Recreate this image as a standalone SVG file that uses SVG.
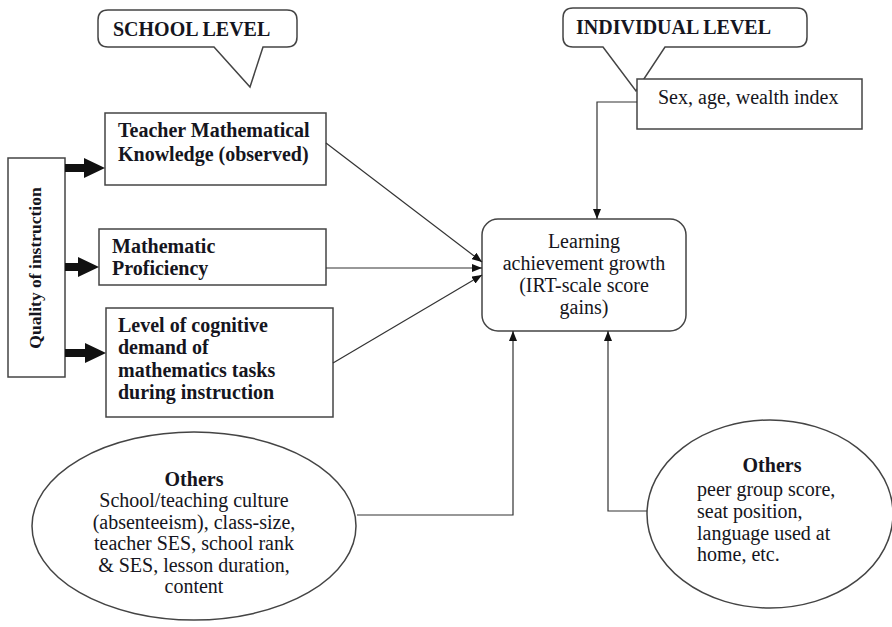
<svg xmlns="http://www.w3.org/2000/svg" width="892" height="627" viewBox="0 0 892 627">
<defs>
<marker id="ah" markerUnits="userSpaceOnUse" markerWidth="10" markerHeight="8" refX="10" refY="4" orient="auto">
<path d="M0,0 L10,4 L0,8 Z" fill="#111"/>
</marker>
<style>
.box{fill:#fff;stroke:#444;stroke-width:1.5}
.t{font-family:"Liberation Serif","Times New Roman",serif;font-size:20px;fill:#151520}
.b{font-weight:bold}
.c{text-anchor:middle}
.con{fill:none;stroke:#333;stroke-width:1.2;marker-end:url(#ah)}
.thick{fill:#111}
</style>
</defs>
<rect width="892" height="627" fill="#fff"/>

<g id="school-level">
<path class="box" d="M108 10 H287 Q297 10 297 20 V37 Q297 47 287 47 H263 L250 87 L214 47 H108 Q98 47 98 37 V20 Q98 10 108 10 Z"/>
<text class="t b" x="113" y="36">SCHOOL LEVEL</text>
</g>

<g id="individual-level">
<path class="box" d="M573 8 H797 Q807 8 807 18 V37 Q807 47 797 47 H665 L636 91 L603 47 H573 Q563 47 563 37 V18 Q563 8 573 8 Z"/>
<text class="t b" x="576" y="34">INDIVIDUAL LEVEL</text>
</g>

<g id="sex-age">
<rect class="box" x="637" y="79" width="225" height="50"/>
<text class="t" x="658" y="104">Sex, age, wealth index</text>
</g>

<g id="quality">
<rect class="box" x="8" y="158" width="57" height="219"/>
<text class="t b c" transform="translate(41 268) rotate(-90)" style="font-size:17.5px">Quality of instruction</text>
</g>

<g id="teacher">
<rect class="box" x="105" y="113" width="221" height="72"/>
<text class="t b" x="118" y="137">Teacher Mathematical</text>
<text class="t b" x="118" y="161">Knowledge (observed)</text>
</g>

<g id="proficiency">
<rect class="box" x="99" y="229" width="227" height="56"/>
<text class="t b" x="112" y="253">Mathematic</text>
<text class="t b" x="112" y="275">Proficiency</text>
</g>

<g id="cognitive">
<rect class="box" x="106" y="308" width="227" height="109"/>
<text class="t b" x="118" y="332">Level of cognitive</text>
<text class="t b" x="118" y="354">demand of</text>
<text class="t b" x="118" y="377">mathematics tasks</text>
<text class="t b" x="118" y="399">during instruction</text>
</g>

<g id="learning">
<rect class="box" x="482" y="219" width="204" height="112" rx="16" ry="16"/>
<text class="t c" x="584" y="248">Learning</text>
<text class="t c" x="584" y="270">achievement growth</text>
<text class="t c" x="584" y="292">(IRT-scale score</text>
<text class="t c" x="584" y="314">gains)</text>
</g>

<g id="others-school">
<ellipse class="box" cx="194" cy="526" rx="162" ry="94"/>
<text class="t b c" x="194" y="486">Others</text>
<text class="t c" x="194" y="507">School/teaching culture</text>
<text class="t c" x="194" y="529">(absenteeism), class-size,</text>
<text class="t c" x="194" y="550">teacher SES, school rank</text>
<text class="t c" x="194" y="572">&amp; SES, lesson duration,</text>
<text class="t c" x="194" y="593">content</text>
</g>

<g id="others-individual">
<ellipse class="box" cx="770" cy="514" rx="123" ry="94"/>
<text class="t b c" x="772" y="472">Others</text>
<text class="t" x="697" y="496">peer group score,</text>
<text class="t" x="697" y="518">seat position,</text>
<text class="t" x="697" y="540">language used at</text>
<text class="t" x="697" y="561">home, etc.</text>
</g>

<g id="connectors">
<polygon class="thick" points="65,164 84,164 84,158 105,168 84,178 84,172 65,172"/>
<polygon class="thick" points="65,263 78,263 78,257 99,267 78,277 78,271 65,271"/>
<polygon class="thick" points="65,349 85,349 85,343 106,353 85,363 85,357 65,357"/>
<line class="con" x1="326" y1="143" x2="482" y2="262"/>
<line class="con" x1="326" y1="268" x2="482" y2="268"/>
<line class="con" x1="333" y1="363" x2="482" y2="275"/>
<polyline class="con" points="637,102 597,102 597,219"/>
<polyline class="con" points="357,515 513,515 513,331"/>
<polyline class="con" points="647,511 608,511 608,331"/>
</g>
</svg>
